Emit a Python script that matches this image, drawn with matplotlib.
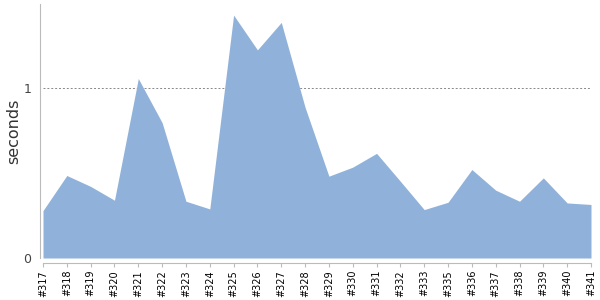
import numpy as np
import matplotlib
matplotlib.use('Agg')
import matplotlib.pyplot as plt

builds = ['#317', '#318', '#319', '#320', '#321', '#322', '#323', '#324',
          '#325', '#326', '#327', '#328', '#329', '#330', '#331', '#332',
          '#333', '#335', '#336', '#337', '#338', '#339', '#340', '#341']
seconds = [0.278, 0.484, 0.42, 0.339, 1.053, 0.794, 0.333, 0.288,
           1.425, 1.221, 1.382, 0.884, 0.48, 0.533, 0.614, 0.45,
           0.284, 0.327, 0.519, 0.398, 0.333, 0.47, 0.323, 0.314]

fig = plt.figure(figsize=(6, 3), dpi=100)
ax = fig.add_axes([43 / 600, 1 - 258 / 300, 548 / 600, 254 / 300])

x = np.arange(len(builds))
ax.fill_between(x, 0, seconds, color='#90b2da', linewidth=0, zorder=2)

ax.set_xlim(0, len(builds) - 1)
ax.set_ylim(0, 1.49)
ax.set_yticks([0, 1])
ax.set_yticklabels(['0', '1'])
ax.set_xticks(x)
ax.set_xticklabels(builds)

ax.yaxis.grid(True, linestyle=(0, (2, 2)), color='#888888', linewidth=0.7)
ax.set_axisbelow(True)

for s in ['top', 'right']:
    ax.spines[s].set_visible(False)
ax.spines['left'].set_position(('outward', 2.5))
ax.spines['bottom'].set_position(('outward', 3.6))
ax.spines['left'].set_color('#bbbbbb')
ax.spines['bottom'].set_color('#bbbbbb')
ax.tick_params(axis='y', length=0, labelsize=9, labelcolor='#444444', pad=6)
ax.tick_params(axis='x', length=3, color='#bbbbbb', pad=2,
               labelsize=7, labelcolor='black', labelrotation=90)

ax.set_ylabel('seconds', fontsize=11.5, color='#333333')
ax.yaxis.set_label_coords(-0.04, 0.5)

fig.savefig('out.png', dpi=100)
